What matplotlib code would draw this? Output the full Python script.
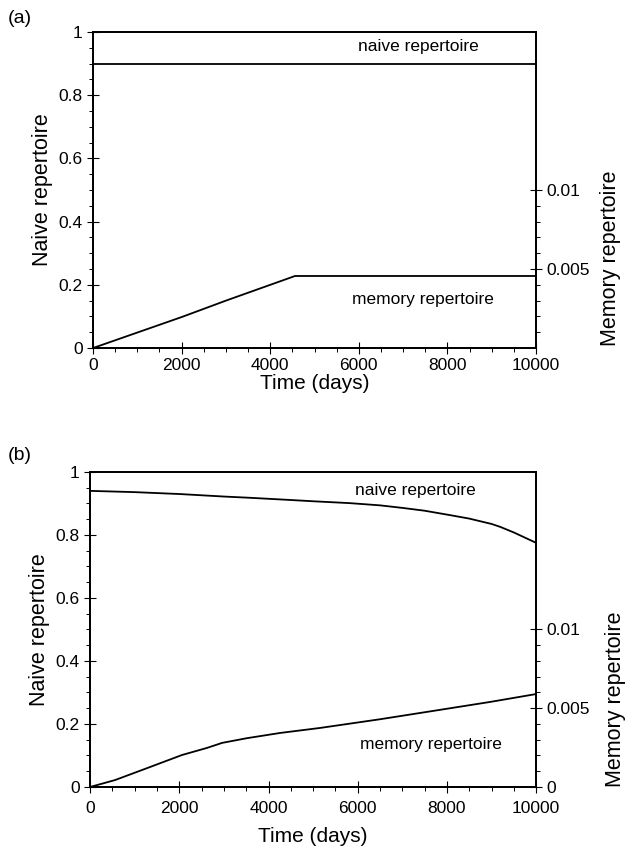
import numpy as np
import matplotlib
matplotlib.use('Agg')
import matplotlib.pyplot as plt
from matplotlib.ticker import MultipleLocator, FixedLocator

plt.rcParams['font.family'] = ['Liberation Sans', 'DejaVu Sans']

# -- data --
# (a) constant naive repertoire, memory grows then saturates
t_a = [0, 1000, 2000, 3000, 4000, 4560, 6000, 8000, 10000]
naive_a = [0.90, 0.90, 0.90, 0.90, 0.90, 0.90, 0.90, 0.90, 0.90]
memory_a = [0.0, 0.00098, 0.00196, 0.0030, 0.0040, 0.00456, 0.00456, 0.00456, 0.00456]

# (b) naive repertoire declines, memory keeps growing
t_b_naive = [0, 1000, 2000, 3000, 3590, 4500, 5000, 5830, 6500, 7000, 7500,
             8070, 8500, 9000, 9190, 9500, 10000]
naive_b = [0.940, 0.936, 0.930, 0.922, 0.918, 0.911, 0.907, 0.901, 0.894, 0.886,
           0.877, 0.863, 0.852, 0.835, 0.826, 0.808, 0.775]
t_b_mem = [0, 560, 1280, 2060, 2620, 2960, 3520, 4260, 5160, 6500, 7850, 8970, 10000]
memory_b = [0.0, 0.00044, 0.0012, 0.00203, 0.00248, 0.0028, 0.0031, 0.00343,
            0.00375, 0.0043, 0.0049, 0.0054, 0.0059]

X_TICKS = [0, 2000, 4000, 6000, 8000, 10000]
LEFT_TICKS = [0, 0.2, 0.4, 0.6, 0.8, 1.0]
LEFT_LABELS = ['0', '0.2', '0.4', '0.6', '0.8', '1']


def style_axes(ax, ax2, right_ticks, right_labels, xpad, xlabelpad, right_label_xy):
    ax.set_xlim(0, 10000)
    ax.set_ylim(0, 1)
    ax2.set_ylim(0, 0.02)
    ax.set_xticks(X_TICKS)
    ax.set_xticklabels([str(x) for x in X_TICKS])
    ax.xaxis.set_minor_locator(MultipleLocator(500))
    ax.set_yticks(LEFT_TICKS)
    ax.set_yticklabels(LEFT_LABELS)
    ax.yaxis.set_minor_locator(MultipleLocator(0.05))
    ax.tick_params(which='major', direction='inout', length=8, width=0.8,
                   labelsize=12.5, top=False, right=False)
    ax.tick_params(which='minor', direction='out', length=3, width=0.7,
                   top=False, right=False)
    ax.tick_params(axis='x', which='major', pad=xpad)
    ax2.set_yticks(right_ticks)
    ax2.set_yticklabels(right_labels)
    ax2.yaxis.set_minor_locator(FixedLocator(np.arange(0.001, 0.0101, 0.001)))
    ax2.tick_params(which='major', direction='inout', length=8, width=0.8,
                    labelsize=12.5)
    ax2.tick_params(which='minor', direction='out', length=3, width=0.7)
    for a in (ax, ax2):
        for s in a.spines.values():
            s.set_linewidth(1.3)
    ax.set_xlabel('Time (days)', fontsize=15, labelpad=xlabelpad)
    ax.set_ylabel('Naive repertoire', fontsize=15.5, labelpad=4)
    ax2.set_ylabel('Memory repertoire', fontsize=15.5)
    ax2.yaxis.set_label_coords(*right_label_xy)


fig = plt.figure(figsize=(6.39, 8.6), dpi=100)

# -- panel (a) --
ax_a = fig.add_axes([0.1455, 0.5953, 0.6935, 0.3675])
ax_a2 = ax_a.twinx()
ax_a.plot(t_a, naive_a, color='black', lw=1.3)
ax_a2.plot(t_a, memory_a, color='black', lw=1.3)
style_axes(ax_a, ax_a2, [0.005, 0.01], ['0.005', '0.01'], 3, 1, (1.145, 0.285))
ax_a.text(7350, 0.955, 'naive repertoire', fontsize=12.5, ha='center', va='center')
ax_a.text(7450, 0.155, 'memory repertoire', fontsize=12.5, ha='center', va='center')
fig.text(0.012, 0.978, '(a)', fontsize=14, ha='left', va='center')

# -- panel (b) --
ax_b = fig.add_axes([0.141, 0.0849, 0.698, 0.3663])
ax_b2 = ax_b.twinx()
ax_b.plot(t_b_naive, naive_b, color='black', lw=1.3)
ax_b2.plot(t_b_mem, memory_b, color='black', lw=1.3)
style_axes(ax_b, ax_b2, [0, 0.005, 0.01], ['0', '0.005', '0.01'], 6, 8, (1.155, 0.28))
ax_b.text(7300, 0.94, 'naive repertoire', fontsize=12.5, ha='center', va='center')
ax_b.text(7650, 0.135, 'memory repertoire', fontsize=12.5, ha='center', va='center')
fig.text(0.012, 0.47, '(b)', fontsize=14, ha='left', va='center')

fig.savefig('out.png', dpi=100)
